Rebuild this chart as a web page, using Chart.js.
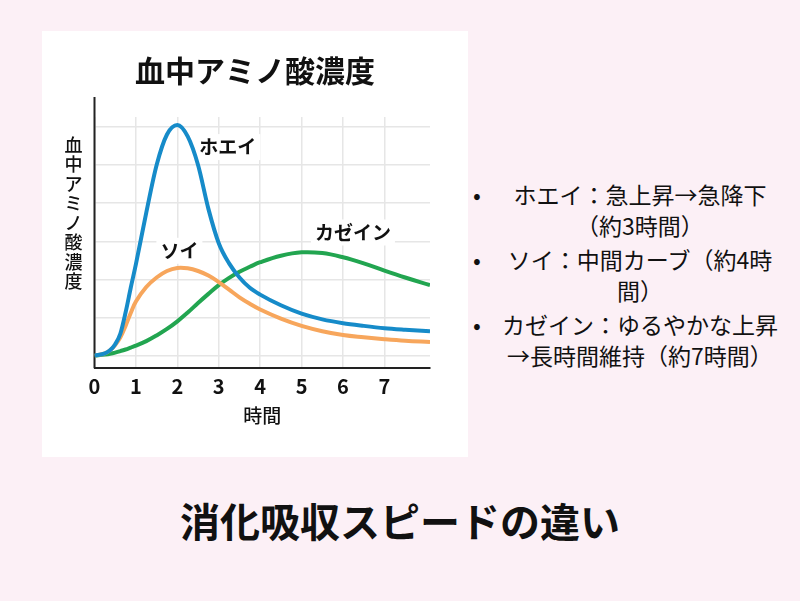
<!DOCTYPE html>
<html lang="ja">
<head>
<meta charset="utf-8">
<script src="https://cdn.jsdelivr.net/npm/chart.js@4.4.1/dist/chart.umd.min.js"></script>
<style>
  html, body { margin: 0; padding: 0; }
  body {
    width: 800px; height: 601px; background: #fcf0f6; position: relative; overflow: hidden;
    font-family: "Noto Sans CJK JP", "Noto Sans", sans-serif; color: #111;
  }
  #panel { position: absolute; left: 42px; top: 31px; width: 426px; height: 426px; background: #fff; }
  #notes { position: absolute; left: 495px; top: 179px; width: 290px; margin: 0; padding: 0; list-style: none;
    font-size: 23px; line-height: 31px; text-align: center; }
  #notes li { position: relative; margin-bottom: 3px; }
  #notes li::before { content: "•"; position: absolute; left: -22px; top: 0; }
  #caption { position: absolute; left: 0; width: 800px; top: 494px; text-align: center;
    font-size: 40px; font-weight: bold; line-height: 52px; }
</style>
</head>
<body>
<div id="panel"><canvas id="aminoChart"></canvas></div>
<ul id="notes">
  <li>ホエイ：急上昇→急降下<br>（約3時間）</li>
  <li>ソイ：中間カーブ（約4時<br>間）</li>
  <li>カゼイン：ゆるやかな上昇<br>→長時間維持（約7時間）</li>
</ul>
<div id="caption">消化吸収スピードの違い</div>

<script>
const hours = [0, 0.25, 0.375, 0.5, 0.625, 0.75, 0.875, 1, 1.25, 1.5, 1.75, 2, 2.25, 2.5, 2.75, 3, 3.25, 3.5, 3.75, 4, 4.5, 5, 5.5, 6, 6.5, 7, 7.5, 8.1];
const whey = [0, 0.06, 0.14, 0.3, 0.58, 1.13, 1.78, 2.4, 3.75, 5.0, 5.8, 6.05, 5.75, 5.0, 3.85, 2.95, 2.42, 2.05, 1.78, 1.6, 1.32, 1.1, 0.95, 0.85, 0.78, 0.72, 0.68, 0.64];
const soy = [0, 0.06, 0.14, 0.28, 0.48, 0.78, 1.12, 1.42, 1.8, 2.05, 2.22, 2.3, 2.29, 2.22, 2.1, 1.93, 1.73, 1.53, 1.36, 1.21, 0.97, 0.78, 0.64, 0.54, 0.48, 0.43, 0.39, 0.36];
const casein = [0, 0.03, 0.05, 0.08, 0.12, 0.16, 0.21, 0.26, 0.38, 0.53, 0.7, 0.9, 1.13, 1.38, 1.62, 1.85, 2.04, 2.2, 2.33, 2.45, 2.62, 2.71, 2.69, 2.58, 2.42, 2.23, 2.05, 1.85];
const xTicks = [0, 1, 2, 3, 4, 5, 6, 7];
const yGrid = [0, 1, 2, 3, 4, 5, 6];
const yTitle = "血中アミノ酸濃度";

const fontFamily = '"Noto Sans CJK JP", "Noto Sans", sans-serif';
Chart.defaults.font.family = fontFamily;
Chart.defaults.color = "#111";

function toPoints(values) {
  return values.map((v, i) => ({ x: hours[i], y: v }));
}

// curve names written next to the lines, plus the taller y axis line and vertical y title
const extras = {
  id: "extras",
  beforeDatasetsDraw(chart) {
    const { ctx, chartArea, scales } = chart;
    const x = scales.x, y = scales.y;
    ctx.save();

    // y axis line reaches above the plot
    ctx.strokeStyle = "#222";
    ctx.lineWidth = 2;
    ctx.beginPath();
    ctx.moveTo(chartArea.left, chartArea.top - 20);
    ctx.lineTo(chartArea.left, chartArea.bottom);
    ctx.stroke();

    // vertical title
    ctx.fillStyle = "#111";
    ctx.font = "500 18px " + fontFamily;
    ctx.textAlign = "center";
    ctx.textBaseline = "middle";
    [...yTitle].forEach((ch, i) => {
      ctx.fillText(ch, chartArea.left - 21, 114 + i * 19.5);
    });

    // curve names
    const names = [
      { text: "ホエイ", x: 3.22, y: 5.47 },
      { text: "ソイ", x: 2.05, y: 2.75 },
      { text: "カゼイン", x: 6.24, y: 3.23 }
    ];
    ctx.font = "bold 19px " + fontFamily;
    names.forEach(n => {
      const px = x.getPixelForValue(n.x);
      const py = y.getPixelForValue(n.y);
      const w = ctx.measureText(n.text).width;
      ctx.fillStyle = "#fff";
      ctx.fillRect(px - w / 2 - 4, py - 13, w + 8, 26);
      ctx.fillStyle = "#111";
      ctx.fillText(n.text, px, py);
    });
    ctx.restore();
  }
};

new Chart(document.getElementById("aminoChart"), {
  type: "line",
  data: {
    datasets: [
      { label: "ホエイ", data: toPoints(whey), borderColor: "#168bc9" },
      { label: "ソイ", data: toPoints(soy), borderColor: "#f7a65c", cubicInterpolationMode: "default", tension: 0.4 },
      { label: "カゼイン", data: toPoints(casein), borderColor: "#22a550", cubicInterpolationMode: "default", tension: 0.4 }
    ]
  },
  options: {
    responsive: true,
    maintainAspectRatio: false,
    animation: false,
    layout: { padding: { left: 38, right: 38, top: 0, bottom: 30 } },
    elements: {
      line: { borderWidth: 4, cubicInterpolationMode: "monotone", fill: false },
      point: { radius: 0 }
    },
    plugins: {
      legend: { display: false },
      tooltip: { enabled: false },
      title: {
        display: true,
        text: "血中アミノ酸濃度",
        color: "#111",
        font: { size: 30, weight: "bold" },
        padding: { top: 22, bottom: 28 }
      }
    },
    scales: {
      x: {
        type: "linear",
        min: 0,
        max: 8.1,
        afterBuildTicks: s => { s.ticks = xTicks.map(v => ({ value: v })); },
        grid: { color: "#e6e6e6", lineWidth: 1.5, drawTicks: false },
        border: { color: "#222", width: 2 },
        ticks: { padding: 6, color: "#111", font: { size: 20, weight: "bold" } },
        title: { display: true, text: "時間", color: "#111", font: { size: 19, weight: "500" }, padding: { top: 0, bottom: 0 } }
      },
      y: {
        min: -0.33,
        max: 6.26,
        afterBuildTicks: s => { s.ticks = yGrid.map(v => ({ value: v })); },
        afterFit: s => { s.width = 14.5; },
        grid: { color: "#e6e6e6", lineWidth: 1.5, drawTicks: false },
        border: { display: false },
        ticks: { display: false }
      }
    }
  },
  plugins: [extras]
});
</script>
</body>
</html>
